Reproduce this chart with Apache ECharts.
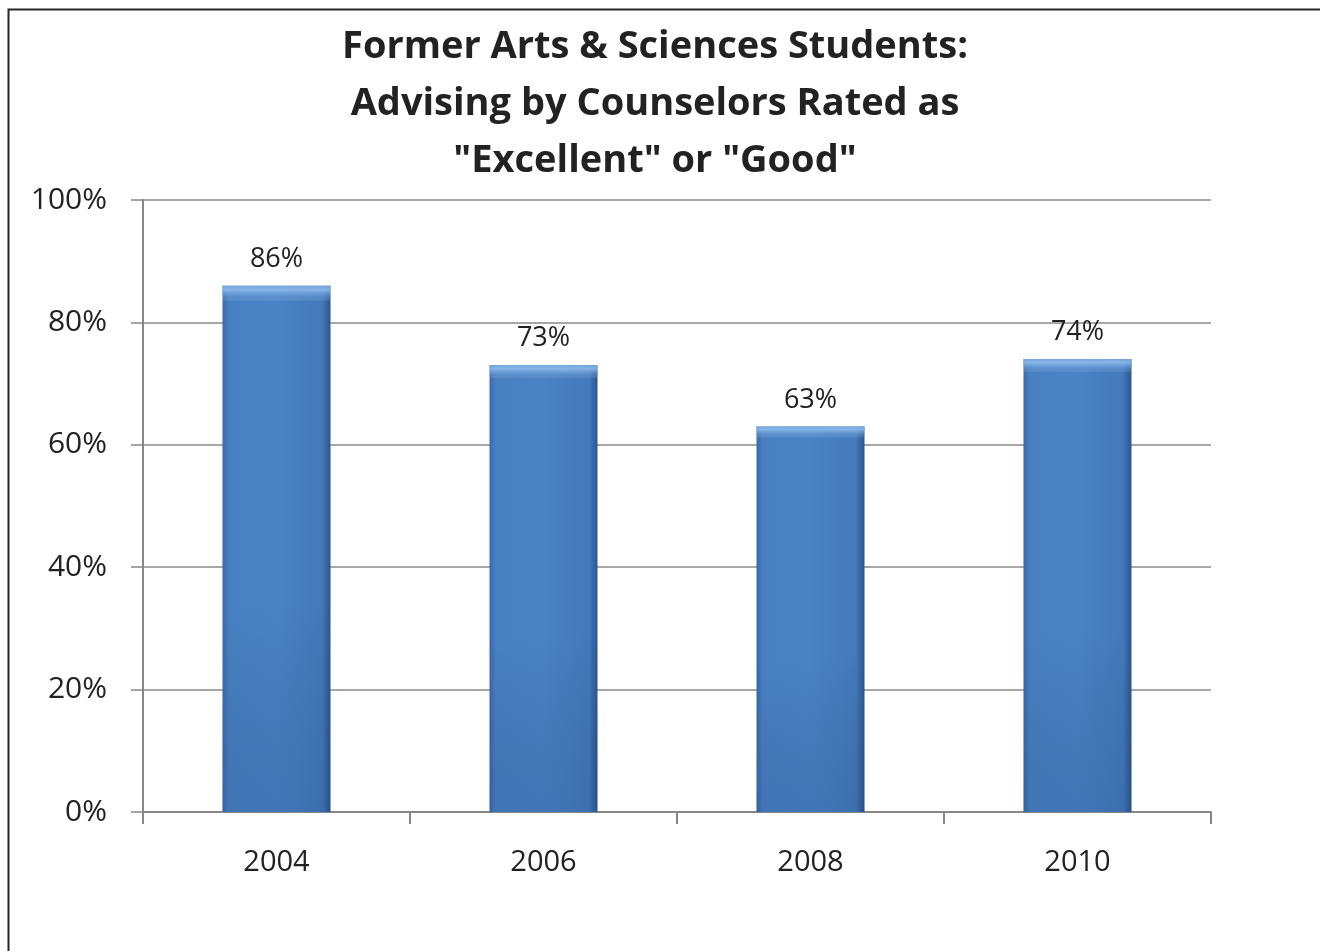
<!DOCTYPE html>
<html>
<head>
<meta charset="utf-8">
<script src="https://cdn.jsdelivr.net/npm/echarts@6/dist/echarts.min.js"></script>
<style>
html,body{margin:0;padding:0;background:#fff;}
#chart{width:1320px;height:951px;}
</style>
</head>
<body>
<div id="chart"></div>
<script>
const titleLines = ['Former Arts & Sciences Students:', 'Advising by Counselors Rated as', '"Excellent" or "Good"'];
const categories = ['2004', '2006', '2008', '2010'];
const values = [86, 73, 63, 74];
const yTicks = [0, 20, 40, 60, 80, 100];

const chart = echarts.init(document.getElementById('chart'), null, {renderer: 'canvas'});
const font = '"Open Sans", "DejaVu Sans", sans-serif';

chart.setOption({
  animation: false,
  backgroundColor: '#ffffff',
  title: {
    text: titleLines.join('\n'),
    left: 650,
    textAlign: 'center',
    top: 14,
    textStyle: {fontFamily: font, fontWeight: 'bold', fontSize: 38, lineHeight: 57, color: '#222'}
  },
  graphic: [{
    type: 'rect', left: 6, top: 7, z: 100, silent: true,
    shape: {width: 1400, height: 1000},
    style: {fill: 'none', stroke: '#262626', lineWidth: 2}
  }],
  grid: {left: 143, right: 109, top: 200, bottom: 139, containLabel: false},
  xAxis: {
    type: 'category',
    data: categories,
    axisLine: {lineStyle: {color: '#878787', width: 2}},
    axisTick: {show: true, length: 12, lineStyle: {color: '#878787', width: 2}, alignWithLabel: false},
    axisLabel: {fontFamily: font, fontSize: 29, color: '#222', margin: 36}
  },
  yAxis: {
    type: 'value',
    min: yTicks[0], max: yTicks[yTicks.length - 1], interval: 20,
    axisLine: {show: true, lineStyle: {color: '#878787', width: 2}},
    axisTick: {show: true, length: 12, lineStyle: {color: '#878787', width: 1.5}},
    splitLine: {lineStyle: {color: '#8a8a8a', width: 1.5}},
    axisLabel: {fontFamily: font, fontSize: 30, color: '#222', margin: 36, formatter: v => v + '%'}
  },
  series: [{
    type: 'bar',
    data: values,
    barWidth: 108,
    itemStyle: {
      color: new echarts.graphic.LinearGradient(0, 0, 1, 0, [
        {offset: 0, color: '#3a69a8'},
        {offset: 0.06, color: '#4880c2'},
        {offset: 0.5, color: '#4a82c4'},
        {offset: 0.92, color: '#4479ba'},
        {offset: 1, color: '#2a5592'}
      ])
    },
    label: {show: true, position: 'top', distance: 13, fontFamily: font, fontSize: 27, color: '#222', formatter: p => p.value + '%'}
  }, {
    type: 'bar',
    data: values,
    barWidth: 108,
    barGap: '-100%',
    silent: true,
    itemStyle: {
      color: new echarts.graphic.LinearGradient(0, 0, 0, 1, [
        {offset: 0, color: 'rgba(120,170,225,0.9)'},
        {offset: 0.008, color: 'rgba(150,195,240,0.8)'},
        {offset: 0.022, color: 'rgba(120,170,230,0.3)'},
        {offset: 0.03, color: 'rgba(255,255,255,0)'},
        {offset: 0.6, color: 'rgba(0,0,0,0)'},
        {offset: 1, color: 'rgba(10,40,90,0.12)'}
      ])
    }
  }]
});
</script>
</body>
</html>
